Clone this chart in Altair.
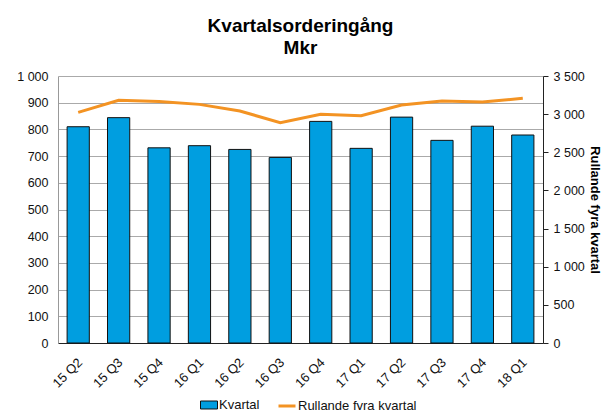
import altair as alt
import pandas as pd

quarters = ["15 Q2", "15 Q3", "15 Q4", "16 Q1", "16 Q2", "16 Q3",
            "16 Q4", "17 Q1", "17 Q2", "17 Q3", "17 Q4", "18 Q1"]
kvartal = [810, 844, 731, 739, 725, 695, 830, 729, 846, 759, 812, 779]
rullande = [3023, 3181, 3167, 3128, 3041, 2888, 2997, 2979, 3119, 3172, 3159, 3207]

df = pd.DataFrame({"q": quarters, "kvartal": kvartal, "rullande": rullande})

BLUE = "#009EE0"
ORANGE = "#F39323"
FONT = "Liberation Sans"
THOUSANDS = "replace(format(datum.value, ','), ',', ' ')"

x = alt.X("q:N", sort=quarters, title=None,
          scale=alt.Scale(paddingInner=0.45, paddingOuter=0.225),
          axis=alt.Axis(labelAngle=-45, labelAlign="right", labelBaseline="middle",
                        labelFontSize=13, labelColor="#111", labelFont=FONT,
                        domainColor="#222", ticks=False, labelPadding=17, labelOffset=2))

bars = alt.Chart(df).mark_bar(stroke="#111", strokeWidth=1).encode(
    x=x,
    y=alt.Y("kvartal:Q", title=None,
            scale=alt.Scale(domain=[0, 1000], nice=False),
            axis=alt.Axis(values=list(range(0, 1001, 100)), labelExpr=THOUSANDS,
                          grid=True, gridColor="#aaaaaa", gridWidth=1,
                          domainColor="#999", ticks=False, labelPadding=10,
                          labelFontSize=12.5, labelColor="#111", labelFont=FONT)),
    fill=alt.Fill("lab:N", scale=alt.Scale(domain=["Kvartal"], range=[BLUE]),
                  legend=alt.Legend(title=None, orient="none", legendX=142, legendY=320,
                                    symbolType="M-1,-0.47H1V0.47H-1Z",
                                    symbolStrokeColor="#111", symbolStrokeWidth=1,
                                    symbolSize=289, labelFontSize=13, labelFont=FONT,
                                    labelColor="#111", labelOffset=1)),
).transform_calculate(lab="'Kvartal'")

line = alt.Chart(df).mark_line(strokeWidth=3).encode(
    x=x,
    y=alt.Y("rullande:Q", title="Rullande fyra kvartal",
            scale=alt.Scale(domain=[0, 3500], nice=False),
            axis=alt.Axis(orient="right", values=list(range(0, 3501, 500)), labelExpr=THOUSANDS,
                          grid=False, domainColor="#222", tickColor="#222", tickSize=5,
                          labelFontSize=12.5, labelColor="#111", labelFont=FONT,
                          titleFontSize=13, titleFont=FONT, titleFontWeight="bold",
                          titleColor="#000", titlePadding=3, labelPadding=5)),
    stroke=alt.Stroke("lab2:N", scale=alt.Scale(domain=["Rullande fyra kvartal"], range=[ORANGE]),
                      legend=alt.Legend(title=None, orient="none", legendX=219, legendY=320,
                                        symbolType="stroke",
                                        symbolStrokeWidth=3, symbolSize=289,
                                        labelFontSize=13, labelFont=FONT, labelColor="#111",
                                        labelOffset=1)),
).transform_calculate(lab2="'Rullande fyra kvartal'")

chart = alt.layer(bars, line).resolve_scale(y="independent").properties(
    width=485, height=267,
    title=alt.TitleParams(["Kvartalsorderingång", "Mkr"], fontSize=19, font=FONT,
                          fontWeight="bold", color="#000", anchor="middle",
                          lineHeight=22, offset=12),
    autosize=alt.AutoSizeParams(type="none"),
    padding={"left": 50, "top": 68, "right": 60, "bottom": 70},
).configure_view(stroke=None)

chart.save("out.html", embed_options={"renderer": "svg", "actions": False})
